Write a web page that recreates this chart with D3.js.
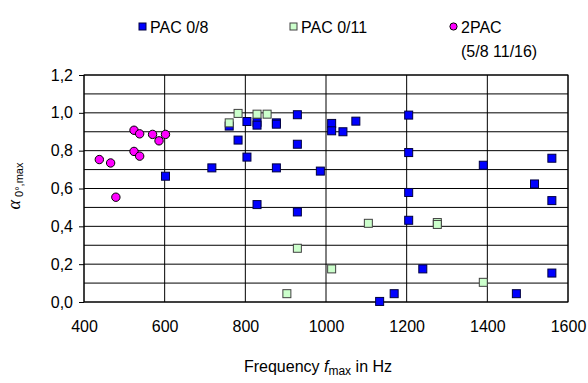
<!DOCTYPE html>
<html><head><meta charset="utf-8">
<script src="https://cdn.jsdelivr.net/npm/d3@7"></script>
<style>body{margin:0;background:#fff}svg{display:block;font-family:Arial,"Liberation Sans",sans-serif}</style>
</head><body><div id="chart"></div>
<script>
const xTicks = [400, 600, 800, 1000, 1200, 1400, 1600];
const yTicks = [0, 0.2, 0.4, 0.6, 0.8, 1.0, 1.2];
const seriesNames = ["PAC 0/8", "PAC 0/11", "2PAC"];

const pac08X = [602,717,760,782,804,804,829,829,829,877,877,877,929,929,929,986,1014,1014,1042,1074,1133,1169,1205,1205,1205,1205,1240,1390,1472,1517,1560,1560,1560];
const pac08Y = [0.665,0.709,0.93,0.856,0.954,0.766,0.95,0.935,0.515,0.947,0.94,0.709,0.99,0.834,0.476,0.692,0.944,0.905,0.90,0.956,0.003,0.044,0.988,0.79,0.579,0.432,0.175,0.723,0.044,0.624,0.76,0.536,0.153];

const pac011X = [760,782,829,854,903,929,1014,1105,1276,1276,1390];
const pac011Y = [0.947,0.997,0.993,0.993,0.044,0.284,0.175,0.416,0.42,0.41,0.104];

const pac2X = [438,466,479,524,538,524,538,570,586,602];
const pac2Y = [0.753,0.735,0.554,0.908,0.889,0.796,0.771,0.886,0.852,0.886];

const W = 588, H = 383;
const m = {left: 84, right: 20, top: 75, bottom: 81};
const svg = d3.select("#chart").append("svg").attr("width", W).attr("height", H);

const x = d3.scaleLinear().domain([400, 1600]).range([m.left, W - m.right]);
const y = d3.scaleLinear().domain([0, 1.2]).range([H - m.bottom, m.top]);

// horizontal gridlines every 0.1
const hGrid = d3.range(0, 1.21, 0.1);
svg.append("g").selectAll("line").data(hGrid).join("line")
  .attr("x1", x(400)).attr("x2", x(1600))
  .attr("y1", d => y(d)).attr("y2", d => y(d))
  .attr("stroke", "#000").attr("stroke-width", 1);
// vertical gridlines
svg.append("g").selectAll("line").data(xTicks).join("line")
  .attr("x1", d => x(d)).attr("x2", d => x(d))
  .attr("y1", y(0)).attr("y2", y(1.2))
  .attr("stroke", "#000").attr("stroke-width", 1);

// border
svg.append("rect").attr("x", x(400)).attr("y", y(1.2))
  .attr("width", x(1600) - x(400)).attr("height", y(0) - y(1.2))
  .attr("fill", "none").attr("stroke", "#000").attr("stroke-width", 1);

const FONT = "Arial, 'Liberation Sans', sans-serif";

// y axis
const yAxis = d3.axisLeft(y).tickValues(yTicks).tickSize(5).tickPadding(6)
  .tickFormat(d => d3.format(".1f")(d).replace(".", ","));
const gy = svg.append("g").attr("transform", `translate(${x(400)},0)`).call(yAxis);
gy.select(".domain").remove();
gy.selectAll("text").attr("font-size", 16).attr("fill", "#000").attr("font-family", FONT);
gy.selectAll("line").attr("stroke", "#000");

// x axis
const xAxis = d3.axisBottom(x).tickValues(xTicks).tickSize(0).tickPadding(19).tickFormat(d3.format("d"));
const gx = svg.append("g").attr("transform", `translate(0,${y(0)})`).call(xAxis);
gx.select(".domain").remove();
gx.selectAll("text").attr("font-size", 16).attr("fill", "#000").attr("font-family", FONT);

// points
const sq = 8;
function squares(xs, ys, fill, stroke) {
  svg.append("g").selectAll("rect").data(xs.map((v, i) => [v, ys[i]])).join("rect")
    .attr("x", d => x(d[0]) - sq / 2).attr("y", d => y(d[1]) - sq / 2)
    .attr("width", sq).attr("height", sq)
    .attr("fill", fill).attr("stroke", stroke).attr("stroke-width", 1);
}
squares(pac08X, pac08Y, "#0000ff", "#000040");
squares(pac011X, pac011Y, "#ccffcc", "#404040");
svg.append("g").selectAll("circle").data(pac2X.map((v, i) => [v, pac2Y[i]])).join("circle")
  .attr("cx", d => x(d[0])).attr("cy", d => y(d[1])).attr("r", 4.2)
  .attr("fill", "#ff00ff").attr("stroke", "#000").attr("stroke-width", 1);

// legend
const lg = svg.append("g").attr("font-size", 16).attr("fill", "#000").attr("font-family", FONT);
const legX = [139, 290, 450];
const legY = 27;
lg.append("rect").attr("x", legX[0]).attr("y", legY - 4).attr("width", 7).attr("height", 7)
  .attr("fill", "#0000ff").attr("stroke", "#000040");
lg.append("rect").attr("x", legX[1]).attr("y", legY - 4).attr("width", 7).attr("height", 7)
  .attr("fill", "#ccffcc").attr("stroke", "#404040");
lg.append("circle").attr("cx", legX[2] + 3.5).attr("cy", legY - 0.5).attr("r", 3.6)
  .attr("fill", "#ff00ff").attr("stroke", "#000");
lg.append("text").attr("x", legX[0] + 11).attr("y", legY + 6).text(seriesNames[0]);
lg.append("text").attr("x", legX[1] + 11).attr("y", legY + 6).text(seriesNames[1]);
lg.append("text").attr("x", legX[2] + 11).attr("y", legY + 6).text(seriesNames[2]);
lg.append("text").attr("x", legX[2] + 11).attr("y", legY + 30).text("(5/8 11/16)");

// y label
const yl = svg.append("text").attr("transform", "translate(20,186) rotate(-90)")
  .attr("text-anchor", "middle").attr("font-size", 14).attr("fill", "#000").attr("font-family", FONT);
yl.append("tspan").attr("font-style", "italic").attr("font-family", "'Times New Roman','Liberation Serif',serif").attr("font-size", 18).text("α");
yl.append("tspan").attr("font-size", 11).attr("dy", 3).text(" 0°,max");

// x label
const xl = svg.append("text").attr("x", 318).attr("y", 372).attr("text-anchor", "middle")
  .attr("font-size", 16).attr("fill", "#000").attr("font-family", FONT);
xl.append("tspan").text("Frequency ");
xl.append("tspan").attr("font-style", "italic").text("f");
xl.append("tspan").attr("font-size", 12).attr("dy", 3).text("max");
xl.append("tspan").attr("dy", -3).text(" in Hz");
</script></body></html>
